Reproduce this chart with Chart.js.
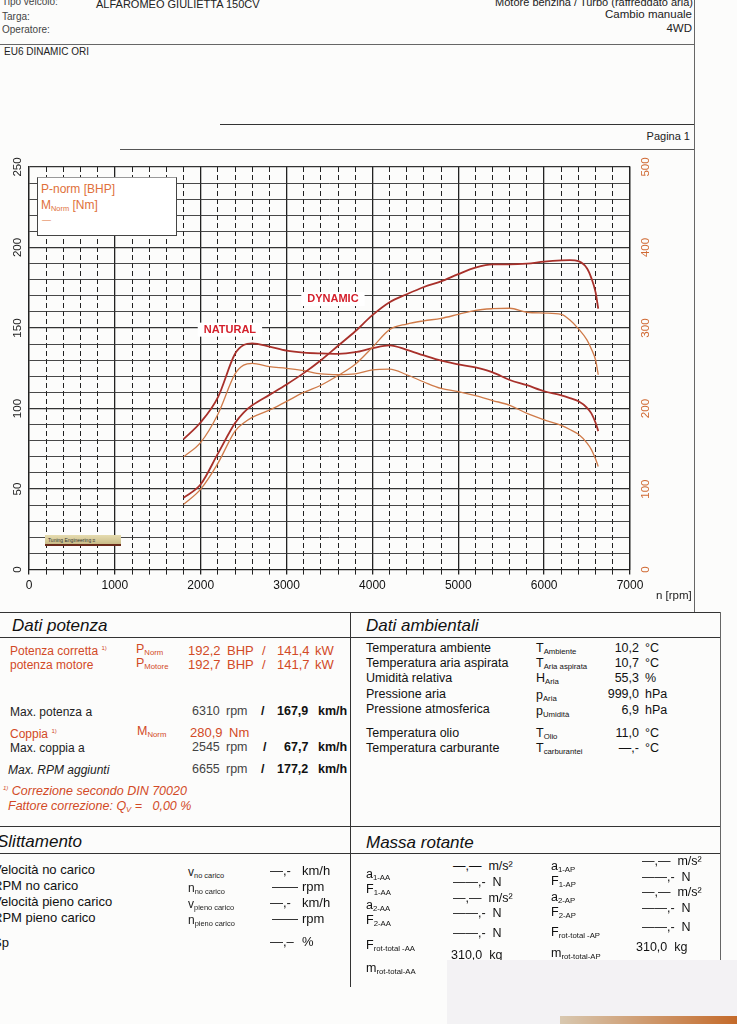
<!DOCTYPE html>
<html>
<head>
<meta charset="utf-8">
<title>Alfa Romeo Giulietta - banco prova</title>
<script src="https://cdn.jsdelivr.net/npm/chart.js"></script>
<style>
    html, body {
        margin: 0;
        width: 737px;
        height: 1024px;
        overflow: hidden;
        background: #fcfcfb;
        font-family: "Liberation Sans", Arial, sans-serif;
        color: #222;
    }
    .t { position: absolute; white-space: nowrap; line-height: 1; }
    .hl { position: absolute; height: 0; border-top: 1.4px solid #333; }
    .vl { position: absolute; width: 0; border-left: 1.4px solid #333; }
    .or { color: #d24a26; }
    .h2 { font-size: 17px; font-style: italic; color: #111; }
    .l { font-size: 12px; }
    .r { font-size: 12.5px; color: #111; }
    .s { font-size: 13px; color: #111; }
    .n { font-size: 13px; }
    .g { font-size: 12.5px; color: #444; }
    .b { font-size: 12.5px; color: #111; font-weight: bold; }
    sub { font-size: 0.62em; vertical-align: -0.25em; }
    #dyno { position: absolute; left: 0; top: 154px; }
    #legendBox {
        position: absolute; left: 37px; top: 177px; width: 138px; height: 57px;
        background: #fff; border: 1px solid #444; border-top-color: #999;
        color: #e0703a; font-size: 12px; z-index: 2;
    }
</style>
</head>
<body>
<!-- intestazione -->
<div class="t" style="left:2px;top:-3px;font-size:10px;color:#444">Tipo veicolo:</div>
<div class="t" style="left:96px;top:-1px;font-size:11px">ALFAROMEO GIULIETTA 150CV</div>
<div class="t" style="left:2px;top:12px;font-size:10px;color:#444">Targa:</div>
<div class="t" style="left:2px;top:25px;font-size:10px;color:#444">Operatore:</div>
<div class="t" style="right:44px;top:-3px;font-size:11px">Motore benzina / Turbo (raffreddato aria)</div>
<div class="t" style="right:45px;top:9px;font-size:11.5px">Cambio manuale</div>
<div class="t" style="right:45px;top:23px;font-size:11.5px">4WD</div>
<div class="hl" style="left:0;top:44px;width:694px;border-top-color:#666"></div>
<div class="t" style="left:4px;top:47px;font-size:10px">EU6 DINAMIC ORI</div>
<div class="hl" style="left:220px;top:124px;width:474px"></div>
<div class="t" style="right:47px;top:131px;font-size:11px">Pagina 1</div>
<div class="hl" style="left:120px;top:149px;width:574px;border-top-color:#555"></div>
<div class="vl" style="left:694px;top:0;height:612px;border-left-color:#666"></div>

<canvas id="dyno" width="737" height="460"></canvas>

<div id="legendBox">
    <div class="t" style="left:3px;top:5px">P-norm [BHP]</div>
    <div class="t" style="left:3px;top:21px">M<sub>Norm</sub> [Nm]</div>
    <div class="t" style="left:4px;top:38px;font-size:9px">—</div>
</div>
<div class="t" style="left:45px;top:535px;width:76px;height:11px;background:linear-gradient(#e6dcb0,#c9bc88);border-bottom:2px solid #6a2a1a;font-size:5px;color:#333;padding-left:3px;box-sizing:border-box;line-height:10px">Tuning Engineering ≡</div>
<div class="t" style="left:656px;top:590px;font-size:11.5px">n [rpm]</div>

<!-- Dati potenza / Dati ambientali -->
<div class="hl" style="left:0;top:612px;width:720px;border-top-width:1.6px"></div>
<div class="hl" style="left:0;top:637px;width:720px"></div>
<div class="vl" style="left:350px;top:612px;height:375px"></div>
<div class="vl" style="left:720px;top:612px;height:348px;border-left-color:#666"></div>
<div class="t h2" style="left:12px;top:617px">Dati potenza</div>
<div class="t h2" style="left:366px;top:617px">Dati ambientali</div>

<div class="t l or" style="left:10px;top:645px">Potenza corretta <sup style="font-size:6px">1)</sup></div>
<div class="t or" style="left:136px;top:643px;font-size:12.5px">P<sub>Norm</sub></div>
<div class="t n or" style="left:188px;top:644px">192,2</div>
<div class="t n or" style="left:227px;top:644px">BHP</div>
<div class="t n or" style="left:262px;top:644px">/</div>
<div class="t n or" style="left:277px;top:644px">141,4</div>
<div class="t n or" style="left:315px;top:644px">kW</div>
<div class="t l or" style="left:10px;top:659px">potenza motore</div>
<div class="t or" style="left:136px;top:657px;font-size:12.5px">P<sub>Motore</sub></div>
<div class="t n or" style="left:188px;top:658px">192,7</div>
<div class="t n or" style="left:227px;top:658px">BHP</div>
<div class="t n or" style="left:262px;top:658px">/</div>
<div class="t n or" style="left:277px;top:658px">141,7</div>
<div class="t n or" style="left:315px;top:658px">kW</div>

<div class="t l" style="left:10px;top:706px">Max. potenza a</div>
<div class="t g" style="left:192px;top:705px">6310</div>
<div class="t g" style="left:226px;top:705px">rpm</div>
<div class="t b" style="left:261px;top:705px">/</div>
<div class="t b" style="left:277px;top:705px">167,9</div>
<div class="t b" style="left:318px;top:705px">km/h</div>
<div class="t l or" style="left:10px;top:728px">Coppia <sup style="font-size:6px">1)</sup></div>
<div class="t or" style="left:137px;top:725px;font-size:12.5px">M<sub>Norm</sub></div>
<div class="t n or" style="left:190px;top:726px">280,9</div>
<div class="t n or" style="left:229px;top:726px">Nm</div>
<div class="t l" style="left:10px;top:742px">Max. coppia a</div>
<div class="t g" style="left:192px;top:741px">2545</div>
<div class="t g" style="left:226px;top:741px">rpm</div>
<div class="t b" style="left:263px;top:741px">/</div>
<div class="t b" style="left:284px;top:741px">67,7</div>
<div class="t b" style="left:318px;top:741px">km/h</div>
<div class="t l" style="left:8px;top:764px;font-style:italic">Max. RPM aggiunti</div>
<div class="t g" style="left:192px;top:763px">6655</div>
<div class="t g" style="left:226px;top:763px">rpm</div>
<div class="t b" style="left:261px;top:763px">/</div>
<div class="t b" style="left:277px;top:763px">177,2</div>
<div class="t b" style="left:318px;top:763px">km/h</div>
<div class="t or" style="left:3px;top:785px;font-size:12.5px;font-style:italic"><sup style="font-size:6px">1)</sup> Correzione secondo DIN 70020</div>
<div class="t or" style="left:8px;top:800px;font-size:12.5px;font-style:italic">Fattore correzione: Q<sub>V</sub> =&nbsp;&nbsp;&nbsp;0,00 %</div>

<div class="t r" style="left:366px;top:642px">Temperatura ambiente</div>
<div class="t r" style="left:366px;top:657px">Temperatura aria aspirata</div>
<div class="t r" style="left:366px;top:672px">Umidità relativa</div>
<div class="t r" style="left:366px;top:688px">Pressione aria</div>
<div class="t r" style="left:366px;top:703px">Pressione atmosferica</div>
<div class="t r" style="left:366px;top:727px">Temperatura olio</div>
<div class="t r" style="left:366px;top:742px">Temperatura carburante</div>
<div class="t r" style="left:536px;top:642px">T<sub>Ambiente</sub></div>
<div class="t r" style="left:536px;top:657px">T<sub>Aria aspirata</sub></div>
<div class="t r" style="left:536px;top:672px">H<sub>Aria</sub></div>
<div class="t r" style="left:536px;top:689px">p<sub>Aria</sub></div>
<div class="t r" style="left:536px;top:705px">p<sub>Umidità</sub></div>
<div class="t r" style="left:536px;top:727px">T<sub>Olio</sub></div>
<div class="t r" style="left:536px;top:742px">T<sub>carburantei</sub></div>
<div class="t r" style="right:98px;top:642px">10,2</div>
<div class="t r" style="right:98px;top:657px">10,7</div>
<div class="t r" style="right:98px;top:672px">55,3</div>
<div class="t r" style="right:98px;top:688px">999,0</div>
<div class="t r" style="right:98px;top:704px">6,9</div>
<div class="t r" style="right:98px;top:727px">11,0</div>
<div class="t r" style="right:98px;top:742px">—,-</div>
<div class="t r" style="left:645px;top:642px">°C</div>
<div class="t r" style="left:645px;top:657px">°C</div>
<div class="t r" style="left:645px;top:672px">%</div>
<div class="t r" style="left:645px;top:688px">hPa</div>
<div class="t r" style="left:645px;top:704px">hPa</div>
<div class="t r" style="left:645px;top:727px">°C</div>
<div class="t r" style="left:645px;top:742px">°C</div>

<!-- Slittamento / Massa rotante -->
<div class="hl" style="left:0;top:826px;width:720px;border-top-width:1.6px"></div>
<div class="hl" style="left:0;top:853px;width:720px"></div>
<div class="t h2" style="left:-3px;top:833px">Slittamento</div>
<div class="t h2" style="left:366px;top:834px">Massa rotante</div>

<div class="t s" style="left:-7px;top:863px">Velocità no carico</div>
<div class="t s" style="left:-7px;top:879px">RPM no carico</div>
<div class="t s" style="left:-7px;top:895px">Velocità pieno carico</div>
<div class="t s" style="left:-7px;top:911px">RPM pieno carico</div>
<div class="t s" style="left:-7px;top:936px">Sp</div>
<div class="t" style="left:188px;top:866px;font-size:12px">v<sub>no carico</sub></div>
<div class="t" style="left:188px;top:882px;font-size:12px">n<sub>no carico</sub></div>
<div class="t" style="left:188px;top:898px;font-size:12px">v<sub>pieno carico</sub></div>
<div class="t" style="left:188px;top:914px;font-size:12px">n<sub>pieno carico</sub></div>
<div class="t s" style="left:270px;top:864px">—,-</div>
<div class="t s" style="left:272px;top:880px">——</div>
<div class="t s" style="left:270px;top:896px">—,-</div>
<div class="t s" style="left:272px;top:912px">——</div>
<div class="t s" style="left:270px;top:935px">—,–</div>
<div class="t s" style="left:302px;top:864px">km/h</div>
<div class="t s" style="left:302px;top:880px">rpm</div>
<div class="t s" style="left:302px;top:896px">km/h</div>
<div class="t s" style="left:302px;top:912px">rpm</div>
<div class="t s" style="left:302px;top:935px">%</div>

<div class="t r" style="left:366px;top:868px">a<sub>1-AA</sub></div>
<div class="t r" style="left:366px;top:883px">F<sub>1-AA</sub></div>
<div class="t r" style="left:366px;top:899px">a<sub>2-AA</sub></div>
<div class="t r" style="left:366px;top:914px">F<sub>2-AA</sub></div>
<div class="t r" style="left:366px;top:939px">F<sub>rot-total -AA</sub></div>
<div class="t r" style="left:366px;top:962px">m<sub>rot-total-AA</sub></div>
<div class="t r" style="left:453px;top:860px">—,—&nbsp;&nbsp;m/s²</div>
<div class="t r" style="left:453px;top:876px">——,-&nbsp;&nbsp;N</div>
<div class="t r" style="left:453px;top:892px">—,—&nbsp;&nbsp;m/s²</div>
<div class="t r" style="left:453px;top:907px">——,-&nbsp;&nbsp;N</div>
<div class="t r" style="left:453px;top:927px">——,-&nbsp;&nbsp;N</div>
<div class="t r" style="left:451px;top:949px">310,0&nbsp;&nbsp;kg</div>
<div class="t r" style="left:551px;top:860px">a<sub>1-AP</sub></div>
<div class="t r" style="left:551px;top:875px">F<sub>1-AP</sub></div>
<div class="t r" style="left:551px;top:891px">a<sub>2-AP</sub></div>
<div class="t r" style="left:551px;top:906px">F<sub>2-AP</sub></div>
<div class="t r" style="left:551px;top:926px">F<sub>rot-total -AP</sub></div>
<div class="t r" style="left:551px;top:947px">m<sub>rot-total-AP</sub></div>
<div class="t r" style="left:642px;top:855px">—,—&nbsp;&nbsp;m/s²</div>
<div class="t r" style="left:642px;top:871px">——,-&nbsp;&nbsp;N</div>
<div class="t r" style="left:642px;top:886px">—,—&nbsp;&nbsp;m/s²</div>
<div class="t r" style="left:642px;top:902px">——,-&nbsp;&nbsp;N</div>
<div class="t r" style="left:642px;top:921px">——,-&nbsp;&nbsp;N</div>
<div class="t r" style="left:636px;top:941px">310,0&nbsp;&nbsp;kg</div>
<div class="t" style="left:447px;top:960px;width:290px;height:64px;background:#f3f2f4"></div>
<div class="t" style="left:560px;top:1016px;width:177px;height:8px;background:linear-gradient(90deg,#d8c8b0,#c46a2a)"></div>

<script>
    // giri motore (rpm) a cui sono letti i valori delle curve
    const rpm = [1800, 2000, 2200, 2400, 2500, 2600, 2800, 3000, 3200, 3400, 3600, 3800, 4000, 4200, 4400,
        4600, 4800, 5000, 5200, 5400, 5600, 5800, 6000, 6200, 6300, 6400, 6500, 6550, 6600, 6630];

    // potenza [BHP], asse sinistro
    const dynamicPowerBhp = [44.6, 53, 72, 91, 97.5, 102, 108.5, 115, 122, 130, 139, 148, 158, 166, 171,
        175.5, 179, 183.5, 187.5, 189.5, 189.5, 190, 191.2, 192, 192.2, 191.5, 187, 181, 172, 162];
    const naturalPowerBhp = [40.5, 50, 66, 86, 91, 94.5, 99, 104.5, 110, 114.5, 120.5, 127.5, 138, 149, 152.5,
        154.5, 156, 158.5, 161, 162, 162.3, 159.8, 159.3, 158.5, 155, 149.5, 142.5, 137, 130, 121];

    // coppia [Nm], asse destro
    const dynamicTorqueNm = [162, 183, 214, 268, 279, 280.9, 277, 272, 269.5, 268.5, 268, 270, 275, 278.5, 273,
        266, 259.5, 255, 251, 245, 235.5, 229, 221.5, 216.5, 213, 209, 201, 194, 182, 172];
    const naturalTorqueNm = [140, 158, 193, 243, 254, 256, 252, 250, 247, 243, 242, 243, 248, 249, 242,
        233, 225, 221, 216, 210, 204, 194, 186, 179, 174, 168, 157, 149, 137, 128];

    // etichette degli assi
    const rpmTicks = [0, 1000, 2000, 3000, 4000, 5000, 6000, 7000];
    const bhpTicks = [0, 50, 100, 150, 200, 250];
    const nmTicks = [0, 100, 200, 300, 400, 500];

    const darkRed = "#a8302a";
    const lightRed = "#cf7a48";

    function points(values) {
        return rpm.map((r, i) => ({ x: r, y: values[i] }));
    }

    // etichette ruotate degli assi verticali + scritte NATURAL / DYNAMIC
    const sheetLabels = {
        id: "sheetLabels",
        afterDraw(chart) {
            const ctx = chart.ctx;
            const area = chart.chartArea;
            const y = chart.scales.y;
            const y1 = chart.scales.y1;
            const x = chart.scales.x;
            ctx.save();
            ctx.font = "11.5px 'Liberation Sans', Arial";
            ctx.textAlign = "center";
            ctx.textBaseline = "middle";
            bhpTicks.forEach(v => {
                ctx.save();
                ctx.translate(area.left - 11, y.getPixelForValue(v));
                ctx.rotate(-Math.PI / 2);
                ctx.fillStyle = "#222";
                ctx.fillText(v, 0, 0);
                ctx.restore();
            });
            nmTicks.forEach(v => {
                ctx.save();
                ctx.translate(area.right + 16, y1.getPixelForValue(v));
                ctx.rotate(-Math.PI / 2);
                ctx.fillStyle = "#d06a34";
                ctx.fillText(v, 0, 0);
                ctx.restore();
            });
            ctx.font = "bold 11px 'Liberation Sans', Arial";
            [["NATURAL", 2340, 149], ["DYNAMIC", 3540, 168]].forEach(([txt, r, v]) => {
                const px = x.getPixelForValue(r);
                const py = y.getPixelForValue(v);
                const w = ctx.measureText(txt).width;
                ctx.fillStyle = "#fff";
                ctx.fillRect(px - w / 2 - 6, py - 7, w + 12, 14);
                ctx.fillStyle = "#d41f2b";
                ctx.fillText(txt, px, py);
            });
            ctx.restore();
        }
    };

    const ctx = document.getElementById("dyno").getContext("2d");
    new Chart(ctx, {
        type: "line",
        data: {
            datasets: [
                { label: "P-norm DYNAMIC", data: points(dynamicPowerBhp), yAxisID: "y", borderColor: darkRed, borderWidth: 1.8 },
                { label: "P-norm NATURAL", data: points(naturalPowerBhp), yAxisID: "y", borderColor: lightRed, borderWidth: 1.3 },
                { label: "M-norm DYNAMIC", data: points(dynamicTorqueNm), yAxisID: "y1", borderColor: darkRed, borderWidth: 1.8 },
                { label: "M-norm NATURAL", data: points(naturalTorqueNm), yAxisID: "y1", borderColor: lightRed, borderWidth: 1.3 },
            ],
        },
        options: {
            responsive: false,
            animation: false,
            parsing: false,
            elements: {
                point: { radius: 0 },
                line: { tension: 0.35, cubicInterpolationMode: "monotone", fill: false },
            },
            layout: { padding: { left: 29, right: 107, top: 13, bottom: 17 } },
            plugins: { legend: { display: false }, tooltip: { enabled: false } },
            scales: {
                x: {
                    type: "linear",
                    min: 0,
                    max: 7000,
                    ticks: {
                        stepSize: 200,
                        autoSkip: false,
                        maxRotation: 0,
                        color: "#111",
                        font: { size: 12, family: "'Liberation Sans', Arial" },
                        padding: 4,
                        callback: v => rpmTicks.includes(v) ? v : "",
                    },
                    grid: {
                        color: "#222",
                        lineWidth: c => c.tick && c.tick.value % 1000 === 0 ? 1.3 : 1,
                        tickLength: 5,
                        tickColor: "#222",
                    },
                    border: {
                        color: "#222",
                        dash: c => c.tick && c.tick.value % 1000 === 0 ? [] : [5, 3],
                    },
                },
                y: {
                    position: "left",
                    min: 0,
                    max: 250,
                    ticks: { stepSize: 10, display: false },
                    grid: { color: "#333", lineWidth: c => c.tick && c.tick.value % 50 === 0 ? 1.3 : 0.9, drawTicks: false },
                    border: { color: "#222", width: 1.3 },
                },
                y1: {
                    position: "right",
                    min: 0,
                    max: 500,
                    ticks: { stepSize: 20, display: false },
                    grid: { drawOnChartArea: false, drawTicks: false },
                    border: { color: "#222", width: 1.3 },
                },
            },
        },
        plugins: [sheetLabels],
    });
</script>
</body>
</html>
